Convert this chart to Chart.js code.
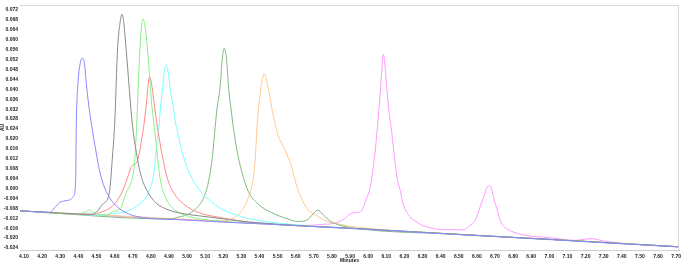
<!DOCTYPE html>
<html>
<head>
<meta charset="utf-8">
<script src="https://cdn.jsdelivr.net/npm/chart.js@4.4.1/dist/chart.umd.min.js"></script>
<style>
  body { margin: 0; background: #fff; }
</style>
</head>
<body>
<canvas id="chart1" width="685" height="264"></canvas>
<script>
// axis ticks
const xTicks = [4.10, 4.20, 4.30, 4.40, 4.50, 4.60, 4.70, 4.80, 4.90, 5.00, 5.10, 5.20, 5.30, 5.40, 5.50, 5.60, 5.70, 5.80, 5.90,
    6.00, 6.10, 6.20, 6.30, 6.40, 6.50, 6.60, 6.70, 6.80, 6.90, 7.00, 7.10, 7.20, 7.30, 7.40, 7.50, 7.60, 7.70];
const yTicks = [0.072, 0.068, 0.064, 0.060, 0.056, 0.052, 0.048, 0.044, 0.040, 0.036, 0.032, 0.028, 0.024, 0.020, 0.016, 0.012,
    0.008, 0.004, 0.000, -0.004, -0.008, -0.012, -0.016, -0.020, -0.024];

// traces (minutes / AU)
const blueMin = [4.078, 4.243, 4.270, 4.297, 4.325, 4.352, 4.374, 4.385, 4.389, 4.398, 4.410, 4.422, 4.434, 4.444, 4.456, 4.471, 4.498, 4.516, 4.538, 4.571, 4.615, 4.664, 4.719, 5.0, 5.5, 6.0, 6.5, 7.0, 7.5, 7.716];
const blueAU = [-0.0090, -0.0096, -0.0077, -0.0057, -0.0050, -0.0046, -0.0031, 0.0029, 0.0266, 0.0424, 0.0503, 0.0526, 0.0503, 0.0424, 0.0345, 0.0266, 0.0147, 0.0076, 0.0017, -0.0035, -0.0074, -0.0098, -0.0112, -0.0127, -0.0146, -0.0165, -0.0186, -0.0206, -0.0227, -0.0236];

const grayMin = [4.078, 4.407, 4.480, 4.507, 4.534, 4.571, 4.589, 4.601, 4.617, 4.629, 4.641, 4.651, 4.663, 4.700, 4.717, 4.745, 4.781, 4.827, 4.900, 4.991, 5.064, 5.229, 5.338, 6.0, 6.5, 7.0, 7.5, 7.716];
const grayAU = [-0.0090, -0.0103, -0.0104, -0.0090, -0.0063, -0.0018, 0.0135, 0.0266, 0.0570, 0.0661, 0.0703, 0.0669, 0.0569, 0.0246, 0.0160, 0.0055, -0.0011, -0.0057, -0.0087, -0.0103, -0.0110, -0.0125, -0.0135, -0.0164, -0.0185, -0.0205, -0.0226, -0.0235];

const greenMin = [4.078, 4.407, 4.440, 4.462, 4.484, 4.516, 4.560, 4.589, 4.635, 4.663, 4.690, 4.708, 4.719, 4.727, 4.736, 4.747, 4.7575, 4.768, 4.781, 4.796, 4.807, 4.820, 4.836, 4.854, 4.882, 4.918, 4.973, 5.046, 5.119, 5.5, 6.0, 6.5, 7.0, 7.5, 7.716];
const greenAU = [-0.0090, -0.0103, -0.0094, -0.0087, -0.0096, -0.0104, -0.0106, -0.0094, -0.0077, -0.0018, 0.0022, 0.0088, 0.0206, 0.0345, 0.0503, 0.0641, 0.0684, 0.0653, 0.0569, 0.0424, 0.0325, 0.0246, 0.0135, 0.0029, -0.0037, -0.0077, -0.0103, -0.0119, -0.0127, -0.0145, -0.0164, -0.0185, -0.0205, -0.0226, -0.0235];

const redMin = [4.078, 4.462, 4.534, 4.589, 4.635, 4.671, 4.689, 4.703, 4.716, 4.726, 4.738, 4.747, 4.760, 4.776, 4.785, 4.794, 4.804, 4.818, 4.837, 4.863, 4.891, 4.927, 4.982, 5.064, 5.174, 5.338, 6.0, 6.5, 7.0, 7.5, 7.716];
const redAU = [-0.0090, -0.0105, -0.0093, -0.0070, -0.0024, 0.0042, 0.0084, 0.0096, 0.0100, 0.0112, 0.0147, 0.0187, 0.0246, 0.0345, 0.0416, 0.0450, 0.0424, 0.0345, 0.0246, 0.0134, 0.0042, -0.0018, -0.0063, -0.0097, -0.0116, -0.0135, -0.0164, -0.0185, -0.0205, -0.0226, -0.0235];

const cyanMin = [4.078, 4.544, 4.571, 4.663, 4.736, 4.790, 4.818, 4.831, 4.845, 4.853, 4.863, 4.873, 4.885, 4.897, 4.909, 4.925, 4.936, 4.945, 4.973, 5.010, 5.064, 5.119, 5.192, 5.283, 5.393, 6.0, 6.5, 7.0, 7.5, 7.716];
const cyanAU = [-0.0090, -0.0108, -0.0103, -0.0093, -0.0063, -0.0011, 0.0068, 0.0167, 0.0246, 0.0325, 0.0392, 0.0463, 0.0499, 0.0463, 0.0392, 0.0325, 0.0265, 0.0238, 0.0147, 0.0068, -0.0002, -0.0044, -0.0083, -0.0110, -0.0129, -0.0164, -0.0185, -0.0205, -0.0226, -0.0235];

const dkGreenMin = [4.078, 4.900, 4.955, 5.010, 5.055, 5.092, 5.119, 5.141, 5.155, 5.166, 5.183, 5.193, 5.205, 5.218, 5.229, 5.242, 5.256, 5.274, 5.302, 5.338, 5.393, 5.466, 5.557, 5.612, 5.667, 5.694, 5.722, 5.749, 5.786, 5.831, 5.914, 6.5, 7.0, 7.5, 7.716];
const dkGreenAU = [-0.0090, -0.0123, -0.0115, -0.0103, -0.0077, -0.0037, 0.0029, 0.0134, 0.0246, 0.0325, 0.0411, 0.0511, 0.0565, 0.0522, 0.0411, 0.0325, 0.0246, 0.0160, 0.0068, -0.0011, -0.0063, -0.0097, -0.0123, -0.0133, -0.0125, -0.0104, -0.0087, -0.0104, -0.0129, -0.0145, -0.0159, -0.0185, -0.0205, -0.0226, -0.0235];

const orangeMin = [4.078, 5.064, 5.174, 5.247, 5.302, 5.338, 5.366, 5.378, 5.386, 5.402, 5.414, 5.426, 5.440, 5.457, 5.475, 5.492, 5.503, 5.519, 5.539, 5.557, 5.575, 5.603, 5.630, 5.667, 5.711, 5.777, 5.848, 5.925, 6.5, 7.0, 7.5, 7.716];
const orangeAU = [-0.0090, -0.0127, -0.0131, -0.0123, -0.0090, -0.0037, 0.0042, 0.0134, 0.0246, 0.0371, 0.0432, 0.0463, 0.0432, 0.0371, 0.0297, 0.0246, 0.0213, 0.0187, 0.0160, 0.0127, 0.0095, 0.0016, -0.0037, -0.0086, -0.0108, -0.0133, -0.0145, -0.0155, -0.0185, -0.0205, -0.0226, -0.0235];

const magentaMin = [4.078, 5.557, 5.667, 5.740, 5.813, 5.868, 5.904, 5.932, 5.959, 5.986, 6.014, 6.036, 6.051, 6.069, 6.077, 6.084, 6.092, 6.102, 6.116, 6.127, 6.142, 6.160, 6.178, 6.193, 6.226, 6.270, 6.288, 6.343, 6.379, 6.434,
    6.526, 6.562, 6.582, 6.604, 6.620, 6.637, 6.653, 6.666, 6.680, 6.697, 6.711, 6.726, 6.746, 6.781, 6.872, 7.000, 7.146, 7.201, 7.238, 7.272, 7.329, 7.716];
const magentaAU = [-0.0090, -0.0147, -0.0149, -0.0145, -0.0140, -0.0123, -0.0101, -0.0097, -0.0093, -0.0050, 0.0016, 0.0134, 0.0246, 0.0411, 0.0495, 0.0542, 0.0503, 0.0411, 0.0305, 0.0246, 0.0147, 0.0042, -0.0011, -0.0062, -0.0110, -0.0136, -0.0145, -0.0158, -0.0164, -0.0166,
    -0.0167, -0.0149, -0.0137, -0.0106, -0.0070, -0.0035, 0.0001, 0.0012, 0.0001, -0.0050, -0.0082, -0.0122, -0.0150, -0.0169, -0.0189, -0.0198, -0.0209, -0.0204, -0.0202, -0.0207, -0.0215, -0.0235];

function trace(name, mins, au, color) {
    return {
        label: name,
        data: mins.map(function(t, i){ return { x: t, y: au[i] }; }),
        borderColor: color,
        borderWidth: 1,
        pointRadius: 0,
        fill: false,
        cubicInterpolationMode: 'monotone'
    };
}

// 차트 테두리 (위, 오른쪽)
const frameLines = {
    id: 'frameLines',
    afterDraw: function(chart) {
        var ctx = chart.ctx, a = chart.chartArea;
        ctx.save();
        ctx.strokeStyle = '#d8d8d8';
        ctx.lineWidth = 1;
        ctx.beginPath();
        ctx.moveTo(a.left, a.top + 0.5);
        ctx.lineTo(a.right, a.top + 0.5);
        ctx.moveTo(a.right - 0.5, a.top);
        ctx.lineTo(a.right - 0.5, a.bottom);
        ctx.stroke();
        ctx.restore();
    }
};

const tickFont = { family: "'Liberation Sans', Arial, sans-serif", size: 5, weight: 'bold' };

new Chart(document.getElementById('chart1'), {
    type: 'line',
    data: {
        datasets: [
            trace('blue', blueMin, blueAU, '#8888ff'),
            trace('gray', grayMin, grayAU, '#8a8a8a'),
            trace('green', greenMin, greenAU, '#88f088'),
            trace('red', redMin, redAU, '#ff8888'),
            trace('cyan', cyanMin, cyanAU, '#78ffff'),
            trace('darkgreen', dkGreenMin, dkGreenAU, '#80b880'),
            trace('orange', orangeMin, orangeAU, '#ffc890'),
            trace('magenta', magentaMin, magentaAU, '#ff98ff')
        ]
    },
    options: {
        responsive: false,
        animation: false,
        layout: { padding: { left: 0, right: 1, top: 0, bottom: 0 } },
        plugins: {
            legend: { display: false },
            tooltip: { enabled: false }
        },
        scales: {
            x: {
                type: 'linear',
                min: 4.078,
                max: 7.716,
                afterBuildTicks: function(scale) { scale.ticks = xTicks.map(function(v){ return { value: v }; }); },
                afterFit: function(scale) { scale.height = 14; },
                grid: { display: false, drawTicks: false },
                border: { display: true, color: '#cfcfcf', dash: [1, 1] },
                ticks: {
                    font: tickFont, color: '#222', padding: 4, maxRotation: 0, autoSkip: false,
                    callback: function(v){ return Number(v).toFixed(2); }
                },
                title: { display: true, text: 'Minutes', font: tickFont, color: '#222', padding: { top: 0, bottom: 0 } }
            },
            y: {
                min: -0.0248,
                max: 0.074,
                afterBuildTicks: function(scale) { scale.ticks = yTicks.map(function(v){ return { value: v }; }); },
                afterFit: function(scale) { scale.width = 20; },
                grid: { display: false, drawTicks: false },
                border: { display: false },
                ticks: {
                    font: tickFont, color: '#222', padding: 2, autoSkip: false,
                    callback: function(v){ return Number(v).toFixed(3); }
                },
                title: { display: true, text: 'AU', font: tickFont, color: '#222', padding: { top: 0, bottom: 0 } }
            }
        }
    },
    plugins: [frameLines]
});
</script>
</body>
</html>
